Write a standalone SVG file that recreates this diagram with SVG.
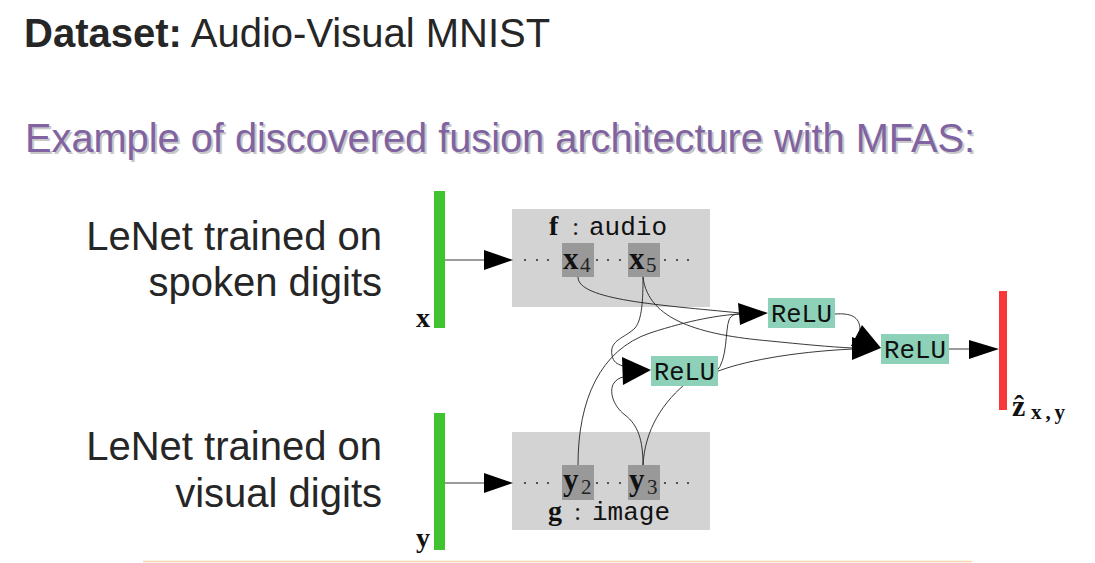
<svg xmlns="http://www.w3.org/2000/svg" width="1095" height="563" viewBox="0 0 1095 563">
  <style>
    .sans { font-family: "Liberation Sans", Arial, sans-serif; fill: #262626; }
    .title { font-size: 40px; }
    .purple { font-size: 40px; fill: #8064A2; }
    .shadow { font-size: 40px; fill: #c8c8c8; }
    .lbl { font-size: 40px; text-anchor: end; }
    .cluster { fill: #d3d3d3; }
    .cell { fill: #999999; }
    .relu { fill: #8dd1b8; }
    .math { font-family: "Liberation Serif", "Times New Roman", serif; font-weight: bold; fill: #111; }
    .sub { font-family: "Liberation Serif", "Times New Roman", serif; fill: #222; }
    .tt { font-family: "Liberation Mono", "Courier New", monospace; fill: #111; }
    .edge { fill: none; stroke: #222; stroke-width: 0.9; }
    .head { fill: #000; }
    .dot { fill: #333; }
  </style>

  <rect width="1095" height="563" fill="#ffffff"/>

  <!-- headings -->
  <g id="heading">
    <text class="sans title" x="24" y="47"><tspan font-weight="bold">Dataset:</tspan> Audio-Visual MNIST</text>
    <text class="sans shadow" x="27" y="154" textLength="950" lengthAdjust="spacingAndGlyphs">Example of discovered fusion architecture with MFAS:</text>
    <text class="sans purple" x="25" y="152" textLength="950" lengthAdjust="spacingAndGlyphs">Example of discovered fusion architecture with MFAS:</text>
  </g>

  <!-- side captions -->
  <g id="caption-audio">
    <text class="sans lbl" x="382" y="250">LeNet trained on</text>
    <text class="sans lbl" x="382" y="296">spoken digits</text>
  </g>
  <g id="caption-visual">
    <text class="sans lbl" x="382" y="460">LeNet trained on</text>
    <text class="sans lbl" x="382" y="507">visual digits</text>
  </g>

  <!-- input x -->
  <g id="input-x">
    <rect x="434" y="191" width="11" height="137" fill="#41c330"/>
    <text class="math" x="416" y="327" font-size="28">x</text>
  </g>

  <!-- input y -->
  <g id="input-y">
    <rect x="434" y="413" width="11" height="137" fill="#41c330"/>
    <text class="math" x="416" y="547" font-size="28">y</text>
  </g>

  <!-- audio network -->
  <g id="net-f">
    <rect class="cluster" x="512" y="209" width="198" height="98"/>
    <text class="math" x="549" y="235" font-size="28">f</text>
    <text class="sub" x="572" y="235" font-size="26">:</text>
    <text class="tt" x="589" y="235" font-size="25" textLength="78" lengthAdjust="spacingAndGlyphs">audio</text>
    <circle class="dot" cx="525" cy="260" r="1.1"/><circle class="dot" cx="537" cy="260" r="1.1"/><circle class="dot" cx="548" cy="260" r="1.1"/>
    <circle class="dot" cx="597" cy="260" r="1.1"/><circle class="dot" cx="608" cy="260" r="1.1"/><circle class="dot" cx="620" cy="260" r="1.1"/>
    <circle class="dot" cx="665" cy="260" r="1.1"/><circle class="dot" cx="677" cy="260" r="1.1"/><circle class="dot" cx="688" cy="260" r="1.1"/>
  </g>
  <g id="x4">
    <rect class="cell" x="562" y="243" width="32" height="34"/>
    <text class="math" x="563" y="269" font-size="31">x</text>
    <text class="sub" x="580" y="272" font-size="21">4</text>
  </g>
  <g id="x5">
    <rect class="cell" x="628" y="243" width="32" height="34"/>
    <text class="math" x="629" y="269" font-size="31">x</text>
    <text class="sub" x="646" y="272" font-size="21">5</text>
  </g>

  <!-- image network -->
  <g id="net-g">
    <rect class="cluster" x="512" y="432" width="198" height="98"/>
    <text class="math" x="548" y="520" font-size="28">g</text>
    <text class="sub" x="574" y="520" font-size="26">:</text>
    <text class="tt" x="592" y="520" font-size="25" textLength="78" lengthAdjust="spacingAndGlyphs">image</text>
    <circle class="dot" cx="525" cy="483" r="1.1"/><circle class="dot" cx="537" cy="483" r="1.1"/><circle class="dot" cx="548" cy="483" r="1.1"/>
    <circle class="dot" cx="597" cy="483" r="1.1"/><circle class="dot" cx="608" cy="483" r="1.1"/><circle class="dot" cx="620" cy="483" r="1.1"/>
    <circle class="dot" cx="665" cy="483" r="1.1"/><circle class="dot" cx="677" cy="483" r="1.1"/><circle class="dot" cx="688" cy="483" r="1.1"/>
  </g>
  <g id="y2">
    <rect class="cell" x="562" y="465" width="32" height="35"/>
    <text class="math" x="563" y="490" font-size="31">y</text>
    <text class="sub" x="581" y="494" font-size="21">2</text>
  </g>
  <g id="y3">
    <rect class="cell" x="628" y="465" width="32" height="35"/>
    <text class="math" x="629" y="490" font-size="31">y</text>
    <text class="sub" x="647" y="494" font-size="21">3</text>
  </g>

  <!-- output -->
  <g id="output-z">
    <rect x="999" y="291" width="8" height="119" fill="#f83838"/>
    <text class="math" x="1012" y="416" font-size="30">ẑ</text>
    <text class="math" x="1031" y="419" font-size="21" textLength="34" lengthAdjust="spacing">x,y</text>
  </g>

  <!-- connectors -->
  <g id="connectors">
    <!-- inputs into the two networks -->
    <path class="edge" d="M445,260 L486,260"/>
    <polygon class="head" points="484,250 484,270 513,260"/>
    <path class="edge" d="M445,483 L486,483"/>
    <polygon class="head" points="484,473 484,493 513,483"/>

    <!-- x4 -> upper ReLU -->
    <path class="edge" d="M578,277 C578,300 660,305 740,313"/>
    <!-- x5 -> lower ReLU -->
    <path class="edge" d="M643,277 C643,300 642,320 635,328 C625,338 609,340 612,355 C613,362 617,364 623,366"/>
    <!-- x5 -> final ReLU -->
    <path class="edge" d="M643,277 C648,320 700,335 770,341 C800,344 830,347 853,348"/>
    <!-- y2 -> upper ReLU -->
    <path class="edge" d="M578,465 C578,400 600,350 650,333 C690,320 720,315 740,314"/>
    <!-- y3 -> lower ReLU -->
    <path class="edge" d="M643,465 C643,440 638,425 625,415 C612,405 609,390 614,383 C616,380 619,378 623,377"/>
    <!-- y3 -> upper ReLU (runs under the lower ReLU box) -->
    <path class="edge" d="M643,465 C645,430 662,402 690,380 L712,366"/>
    <!-- lower ReLU -> upper ReLU -->
    <path class="edge" d="M716,372 C728,360 725,330 729,320 C731,315 735,314 740,314"/>
    <!-- lower ReLU -> final ReLU -->
    <path class="edge" d="M716,372 C740,362 790,352 853,349"/>
    <!-- upper ReLU -> final ReLU -->
    <path class="edge" d="M835,314 C850,313 860,316 860,330"/>

    <polygon class="head" points="738,303 740,325 768,313"/>
    <polygon class="head" points="622,357 623,385 651,370"/>
    <polygon class="head" points="852,337 852,360 881,348"/>
    <polygon class="head" points="862,325 851,346 881,348"/>

    <!-- final ReLU -> output -->
    <path class="edge" d="M949,349 L971,349"/>
    <polygon class="head" points="969,340 969,359 999,349"/>
  </g>

  <!-- fusion nodes -->
  <g id="relu-upper">
    <rect class="relu" x="768" y="298" width="67" height="30"/>
    <text class="tt" x="771" y="322" font-size="26" textLength="61" lengthAdjust="spacingAndGlyphs">ReLU</text>
  </g>
  <g id="relu-lower">
    <rect class="relu" x="651" y="356" width="67" height="30"/>
    <text class="tt" x="654" y="380" font-size="26" textLength="61" lengthAdjust="spacingAndGlyphs">ReLU</text>
  </g>
  <g id="relu-final">
    <rect class="relu" x="881" y="334" width="68" height="30"/>
    <text class="tt" x="884" y="358" font-size="26" textLength="62" lengthAdjust="spacingAndGlyphs">ReLU</text>
  </g>

  <!-- footer rule -->
  <line x1="143" y1="561.5" x2="972" y2="561.5" stroke="#f5d5b0" stroke-width="1.5"/>
</svg>
